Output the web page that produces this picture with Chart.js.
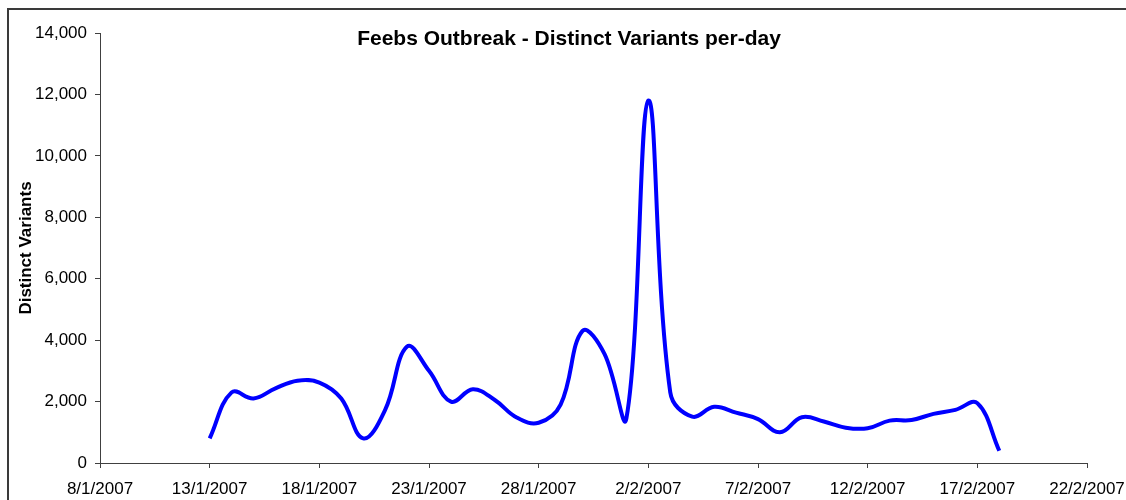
<!DOCTYPE html>
<html>
<head>
<meta charset="utf-8">
<script src="https://cdn.jsdelivr.net/npm/chart.js@4/dist/chart.umd.min.js"></script>
<style>
  html, body { margin: 0; padding: 0; background: #fff; }
  canvas { display: block; }
</style>
</head>
<body>
<canvas id="feebsChart" width="1126" height="500"></canvas>
<script>
const startDate  = '8/1/2007';
const tickLabels = ['8/1/2007', '13/1/2007', '18/1/2007', '23/1/2007', '28/1/2007',
                    '2/2/2007', '7/2/2007', '12/2/2007', '17/2/2007', '22/2/2007'];
const days = ['13/1/2007', '14/1/2007', '15/1/2007', '16/1/2007', '17/1/2007', '18/1/2007',
              '19/1/2007', '20/1/2007', '21/1/2007', '22/1/2007', '23/1/2007', '24/1/2007',
              '25/1/2007', '26/1/2007', '27/1/2007', '28/1/2007', '29/1/2007', '30/1/2007',
              '31/1/2007', '1/2/2007', '2/2/2007', '3/2/2007', '4/2/2007', '5/2/2007',
              '6/2/2007', '7/2/2007', '8/2/2007', '9/2/2007', '10/2/2007', '11/2/2007',
              '12/2/2007', '13/2/2007', '14/2/2007', '15/2/2007', '16/2/2007', '17/2/2007',
              '18/2/2007'];
const variants = [800, 2300, 2100, 2430, 2680, 2620,
                  2100, 800, 1730, 3790, 3000, 2000,
                  2400, 2050, 1480, 1310, 1900, 4300,
                  3550, 1450, 11800, 2300, 1510, 1830,
                  1640, 1430, 1000, 1490, 1350, 1150,
                  1130, 1380, 1400, 1600, 1730, 1950,
                  400];

const AXIS = '#404040';
const FONT = "'Liberation Sans', Arial, sans-serif";

// d/m/yyyy -> days since startDate
function dayNum(s) {
  const [d, m, y] = s.split('/').map(Number);
  const [d0, m0, y0] = startDate.split('/').map(Number);
  return Math.round((Date.UTC(y, m - 1, d) - Date.UTC(y0, m0 - 1, d0)) / 86400000);
}

const decor = {
  id: 'decor',
  afterDraw(chart) {
    const ctx = chart.ctx;
    ctx.save();
    // outer frame (cut off at right/bottom like the original)
    ctx.strokeStyle = '#3a3a3a';
    ctx.lineWidth = 2;
    ctx.strokeRect(8, 9, chart.width + 40, chart.height + 40);
    // title
    ctx.fillStyle = '#000';
    ctx.font = 'bold 21px ' + FONT;
    ctx.textAlign = 'center';
    ctx.textBaseline = 'alphabetic';
    ctx.fillText('Feebs Outbreak - Distinct Variants per-day', chart.width / 2 + 6, 45);
    // y axis title
    ctx.translate(31, (chart.chartArea.top + chart.chartArea.bottom) / 2);
    ctx.rotate(-Math.PI / 2);
    ctx.font = 'bold 17px ' + FONT;
    ctx.fillText('Distinct Variants', 0, 0);
    ctx.restore();
  }
};

new Chart(document.getElementById('feebsChart'), {
  type: 'line',
  data: {
    datasets: [{
      data: days.map((d, i) => ({ x: dayNum(d), y: variants[i] })),
      borderColor: '#0000ff',
      borderWidth: 4,
      pointRadius: 0,
      tension: 0.4,
      fill: false
    }]
  },
  options: {
    responsive: false,
    animation: false,
    layout: { padding: { left: 0, right: 39, top: 33, bottom: 0 } },
    plugins: { legend: { display: false }, tooltip: { enabled: false } },
    scales: {
      x: {
        type: 'linear',
        min: dayNum(tickLabels[0]),
        max: dayNum(tickLabels[tickLabels.length - 1]),
        afterFit: s => { s.height = 37; s.paddingLeft = 0; s.paddingRight = 0; },
        afterBuildTicks: s => { s.ticks = tickLabels.map(t => ({ value: dayNum(t) })); },
        ticks: {
          autoSkip: false, maxRotation: 0, padding: 11, color: '#000',
          font: { family: FONT, size: 17 },
          callback: (v, i) => tickLabels[i]
        },
        grid: { drawOnChartArea: false, tickLength: 5, color: AXIS },
        border: { color: AXIS, width: 1 }
      },
      y: {
        min: 0, max: 14000,
        afterFit: s => { s.width = 100; s.paddingTop = 0; s.paddingBottom = 0; },
        ticks: {
          stepSize: 2000, padding: 8, color: '#000',
          font: { family: FONT, size: 17 },
          callback: v => v.toLocaleString('en-US')
        },
        grid: { drawOnChartArea: false, tickLength: 5, color: AXIS },
        border: { color: AXIS, width: 1 }
      }
    }
  },
  plugins: [decor]
});
</script>
</body>
</html>
